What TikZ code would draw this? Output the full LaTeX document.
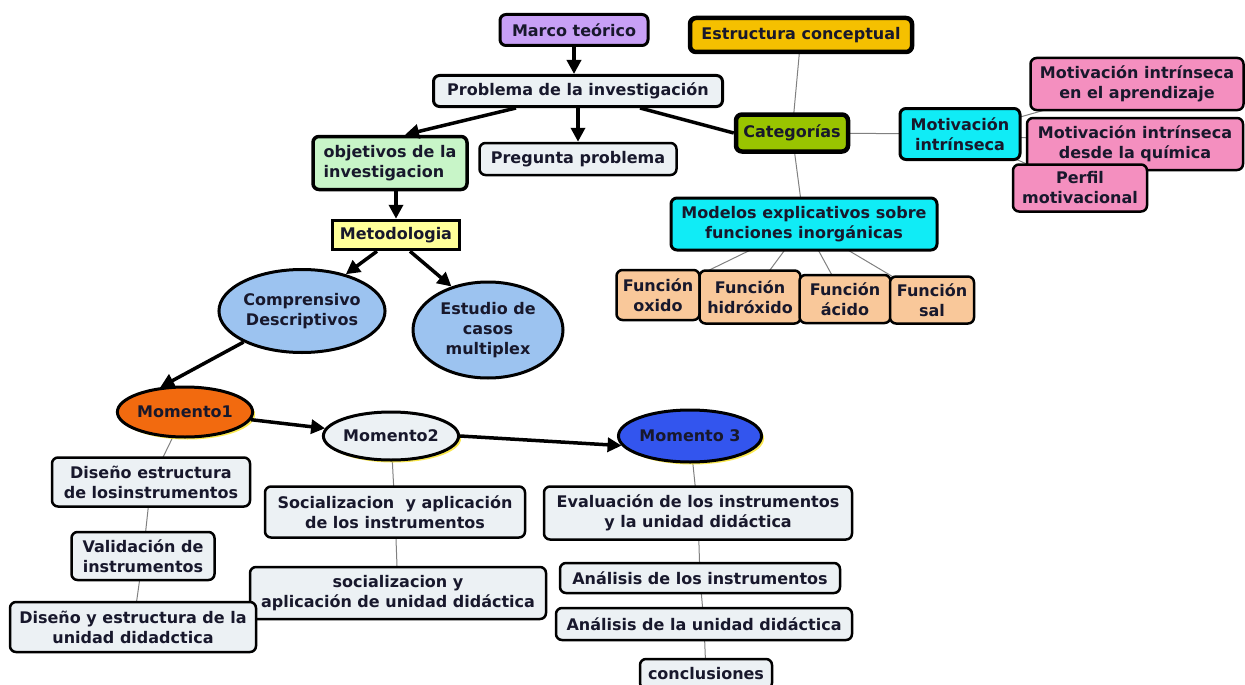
\documentclass[tikz,border=0pt]{standalone}
\usepackage{fontspec}
\setmainfont{DejaVu Sans}
\usetikzlibrary{shapes.geometric,arrows.meta,backgrounds,shadows}
\definecolor{txt}{RGB}{24,24,44}
\definecolor{cMarco}{RGB}{200,160,246}
\definecolor{cEstr}{RGB}{245,192,0}
\definecolor{cPale}{RGB}{236,241,244}
\definecolor{cObj}{RGB}{200,245,200}
\definecolor{cCat}{RGB}{153,196,0}
\definecolor{cCyan}{RGB}{16,236,246}
\definecolor{cPink}{RGB}{244,143,191}
\definecolor{cPeach}{RGB}{249,200,154}
\definecolor{cMet}{RGB}{255,255,153}
\definecolor{cBlueL}{RGB}{156,195,240}
\definecolor{cOrange}{RGB}{242,106,15}
\definecolor{cBlue}{RGB}{51,85,238}
\definecolor{cGlow}{RGB}{250,230,60}
\begin{document}
\begin{tikzpicture}[x=1pt,y=-1pt,
  lbl/.style={text=txt, align=center, inner sep=0pt, font=\bfseries\fontsize{16}{20}\selectfont},
  box/.style={lbl, draw=black, rounded corners=6pt, line width=2.5pt},
  ell/.style={lbl, ellipse, draw=black, line width=3pt},
  glow/.style={drop shadow={shadow xshift=2.5pt, shadow yshift=-2.5pt, fill=cGlow, opacity=0.9}},
  arr/.style={line width=3.5pt, -{Triangle[length=14pt,width=14pt]}},
  heavy/.style={line width=3.5pt},
  thin/.style={draw=gray, line width=1pt}]
\useasboundingbox (0,0) rectangle (1245,685);

% top
\node[box, fill=cMarco, line width=3pt, minimum width=148pt, minimum height=31pt] (marco) at (574,30) {Marco teórico};
\node[box, fill=cEstr, line width=4.5pt, minimum width=222pt, minimum height=34pt] (estr) at (801,35) {Estructura conceptual};
\node[box, fill=cPale, line width=3pt, minimum width=289pt, minimum height=31pt] (prob) at (578,91) {Problema de la investigación};
\node[box, fill=cObj, line width=3.5pt, minimum width=154pt, minimum height=53pt, align=left] (obj) at (390,163) {objetivos de la\\investigacion};
\node[box, fill=cPale, minimum width=197pt, minimum height=32pt] (preg) at (578,159) {Pregunta problema};
\node[box, fill=cCat, line width=4.5pt, minimum width=112pt, minimum height=37pt] (cat) at (792,133) {Categorías};
\node[box, fill=cCyan, line width=3pt, minimum width=120pt, minimum height=51pt] (motiv) at (960,134) {Motivación\\intrínseca};
\node[box, fill=cPink, minimum width=213pt, minimum height=52pt] (mapr) at (1137,84) {Motivación intrínseca\\en el aprendizaje};
\node[box, fill=cPink, minimum width=216pt, minimum height=52pt] (mquim) at (1135,144) {Motivación intrínseca\\desde la química};
\node[box, fill=cPink, minimum width=134pt, minimum height=47pt] (perfil) at (1080,188) {Perfil\\motivacional};
\node[box, fill=cCyan, line width=3pt, minimum width=266pt, minimum height=52pt] (model) at (804,224) {Modelos explicativos sobre\\funciones inorgánicas};
\node[box, fill=cPeach, minimum width=83pt, minimum height=50pt] (fox) at (658,295) {Función\\oxido};
\node[box, fill=cPeach, minimum width=101pt, minimum height=53pt] (fhid) at (750,297) {Función\\hidróxido};
\node[box, fill=cPeach, minimum width=91pt, minimum height=48pt] (fac) at (845,299) {Función\\ácido};
\node[box, fill=cPeach, minimum width=84pt, minimum height=47pt] (fsal) at (932,300) {Función\\sal};

% methodology
\node[lbl, draw=black, fill=cMet, line width=3.5pt, minimum width=127pt, minimum height=29pt] (metod) at (396,235) {Metodologia};
\node[ell, fill=cBlueL, minimum width=161pt, minimum height=83pt] (comp) at (302,311) {Comprensivo\\Descriptivos};
\node[ell, fill=cBlueL, minimum width=150pt, minimum height=96pt] (est) at (488,330) {Estudio de\\casos\\multiplex};

% moments
\node[ell, glow, fill=cOrange, minimum width=120pt, minimum height=50pt] (m1) at (185,412) {Momento1};
\node[ell, glow, fill=cPale, minimum width=122pt, minimum height=48pt] (m2) at (391,436) {Momento2};
\node[ell, glow, fill=cBlue, minimum width=133pt, minimum height=52pt] (m3) at (690,436) {Momento 3};

\node[box, fill=cPale, minimum width=198pt, minimum height=49pt] (d1) at (151,482) {Diseño estructura\\de losinstrumentos};
\node[box, fill=cPale, minimum width=143pt, minimum height=48pt] (d2) at (143,556) {Validación de\\instrumentos};
\node[box, fill=cPale, minimum width=296pt, minimum height=52pt] (s2) at (398,593) {socializacion y\\aplicación de unidad didáctica};
\node[box, fill=cPale, minimum width=246pt, minimum height=50pt] (d3) at (133,627) {Diseño y estructura de la\\unidad didadctica};
\node[box, fill=cPale, minimum width=260pt, minimum height=51pt] (s1) at (395,512) {Socializacion~ y aplicación\\de los instrumentos};
\node[box, fill=cPale, minimum width=308pt, minimum height=53pt] (e1) at (698,513) {Evaluación de los instrumentos\\y la unidad didáctica};
\node[box, fill=cPale, minimum width=280pt, minimum height=30pt] (e2) at (700,578) {Análisis de los instrumentos};
\node[box, fill=cPale, minimum width=296pt, minimum height=32pt] (e3) at (704,624) {Análisis de la unidad didáctica};
\node[box, fill=cPale, minimum width=132pt, minimum height=30pt] (e4) at (706,674) {conclusiones};

% thin links behind
\begin{pgfonlayer}{background}
\draw[thin] (estr.center) -- (cat.center);
\draw[thin] (cat.center) -- (model.center);
\draw[thin] (cat.center) -- (motiv.center);
\draw[thin] (motiv.center) -- (mapr.center);
\draw[thin] (motiv.center) -- (mquim.center);
\draw[thin] (motiv.center) -- (perfil.center);
\draw[thin] (model.center) -- (fox.center);
\draw[thin] (model.center) -- (fhid.center);
\draw[thin] (model.center) -- (fac.center);
\draw[thin] (model.center) -- (fsal.center);
\draw[thin] (m1.center) -- (d1.center);
\draw[thin] (d1.center) -- (d2.center);
\draw[thin] (d2.center) -- (d3.center);
\draw[thin] (m2.center) -- (s1.center);
\draw[thin] (s1.center) -- (s2.center);
\draw[thin] (m3.center) -- (e1.center);
\draw[thin] (e1.center) -- (e2.center);
\draw[thin] (e2.center) -- (e3.center);
\draw[thin] (e3.center) -- (e4.center);
\end{pgfonlayer}

% heavy connectors
\draw[arr] (marco.south) -- (marco.south |- prob.north);
\draw[arr] (prob.south) -- (prob.south |- preg.north);
\draw[arr] ([xshift=-62pt]prob.south) -- ([xshift=15pt]obj.north);
\draw[heavy] ([xshift=62pt]prob.south) -- (cat.west);
\draw[arr] (metod.north |- obj.south) -- (metod.north);
\draw[arr] ([xshift=-19pt]metod.south) -- (comp.40);
\draw[arr] ([xshift=14pt]metod.south) -- (est.130);
\draw[arr] (comp.208) -- (m1.135);
\draw[arr] (m1) -- (m2);
\draw[arr] (m2.east) -- (m3.188);
\end{tikzpicture}
\end{document}
